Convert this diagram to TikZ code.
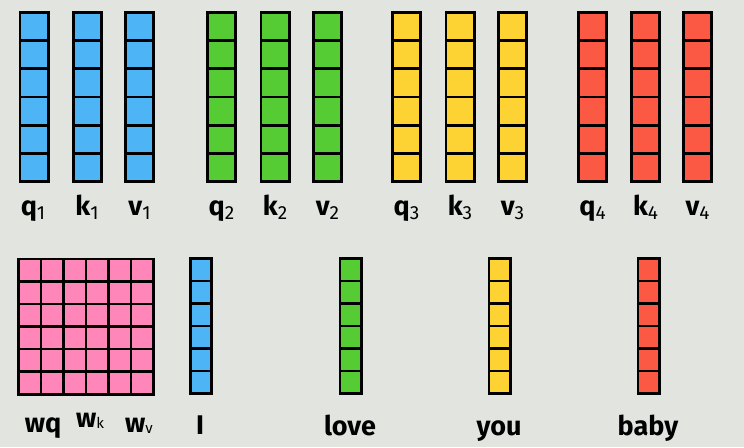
\documentclass[tikz,border=0pt]{standalone}
\usepackage{fontspec}
\setmainfont{Fira Sans}
\usetikzlibrary{positioning,calc}
\definecolor{bgc}{HTML}{E2E4DF}
\definecolor{qblue}{HTML}{4DB4F6}
\definecolor{qgreen}{HTML}{55CC33}
\definecolor{qyellow}{HTML}{FDD333}
\definecolor{qred}{HTML}{FC5944}
\definecolor{qpink}{HTML}{FF86B9}
\tikzset{
  rows/.style={path picture={
    \foreach \i in {1,...,5}
      \draw[line width=2.6pt] ($(path picture bounding box.north west)!\i/6!(path picture bounding box.south west)$)
        -- ($(path picture bounding box.north east)!\i/6!(path picture bounding box.south east)$);}},
  cols/.style={path picture={
    \foreach \i in {1,...,5}{
      \draw[line width=2.6pt] ($(path picture bounding box.north west)!\i/6!(path picture bounding box.south west)$)
        -- ($(path picture bounding box.north east)!\i/6!(path picture bounding box.south east)$);
      \draw[line width=2.6pt] ($(path picture bounding box.north west)!\i/6!(path picture bounding box.north east)$)
        -- ($(path picture bounding box.south west)!\i/6!(path picture bounding box.south east)$);}}},
  qkv/.style={draw=black,line width=2.6pt,inner sep=0pt,fill=#1,minimum width=28.4pt,minimum height=169.4pt,rows},
  word/.style={draw=black,line width=2.6pt,inner sep=0pt,fill=#1,minimum width=21.4pt,minimum height=135.4pt,rows},
  lbl/.style={anchor=base,inner sep=0pt,font=\fontsize{27}{31}\selectfont\bfseries},
}
\newcommand{\idx}[1]{\raisebox{-4pt}{\fontsize{19}{19}\mdseries\selectfont #1}}
\newcommand{\sml}[1]{\raisebox{-1pt}{\fontsize{15}{15}\mdseries\selectfont #1}}

\begin{document}
\begin{tikzpicture}[x=1pt,y=-1pt]
\fill[bgc] (0,0) rectangle (744,447);
\useasboundingbox (0,0) rectangle (744,447);
% q, k, v of every word
\node[qkv=qblue] (q1) at (34,97) {};
\node[qkv=qblue] (k1) at (87.5,97) {};
\node[qkv=qblue] (v1) at (139.5,97) {};
\node[qkv=qgreen] (q2) at (221.5,97) {};
\node[qkv=qgreen] (k2) at (275,97) {};
\node[qkv=qgreen] (v2) at (327.5,97) {};
\node[qkv=qyellow] (q3) at (406.5,97) {};
\node[qkv=qyellow] (k3) at (460,97) {};
\node[qkv=qyellow] (v3) at (512.5,97) {};
\node[qkv=qred] (q4) at (592.5,97) {};
\node[qkv=qred] (k4) at (645.5,97) {};
\node[qkv=qred] (v4) at (697.5,97) {};
\node[lbl] (lq1) at (33,215) {q\idx{1}};
\node[lbl] (lk1) at (87,215) {k\idx{1}};
\node[lbl] (lv1) at (139.5,215) {v\idx{1}};
\node[lbl] (lq2) at (221.5,215) {q\idx{2}};
\node[lbl] (lk2) at (275,215) {k\idx{2}};
\node[lbl] (lv2) at (327.5,215) {v\idx{2}};
\node[lbl] (lq3) at (406.5,215) {q\idx{3}};
\node[lbl] (lk3) at (460,215) {k\idx{3}};
\node[lbl] (lv3) at (512.5,215) {v\idx{3}};
\node[lbl] (lq4) at (592.5,215) {q\idx{4}};
\node[lbl] (lk4) at (645.5,215) {k\idx{4}};
\node[lbl] (lv4) at (697.5,215) {v\idx{4}};
% weights and word vectors
\node[draw=black,line width=2.6pt,inner sep=0pt,fill=qpink,minimum size=135.4pt,cols] (W) at (86,326.5) {};
\node[word=qblue] (I) at (201,326) {};
\node[word=qgreen] (love) at (350.5,326) {};
\node[word=qyellow] (you) at (499.5,326) {};
\node[word=qred] (baby) at (648.5,326) {};
\node[lbl] (lwq) at (43,432) {wq};
\node[lbl] (lwk) at (90,427) {w\sml{k}};
\node[lbl] (lwv) at (139,432) {w\sml{v}};
\node[lbl] (lI) at (200,434) {I};
\node[lbl] (llove) at (350,435) {love};
\node[lbl] (lyou) at (499,435) {you};
\node[lbl] (lbaby) at (648,435) {baby};
\end{tikzpicture}
\end{document}
